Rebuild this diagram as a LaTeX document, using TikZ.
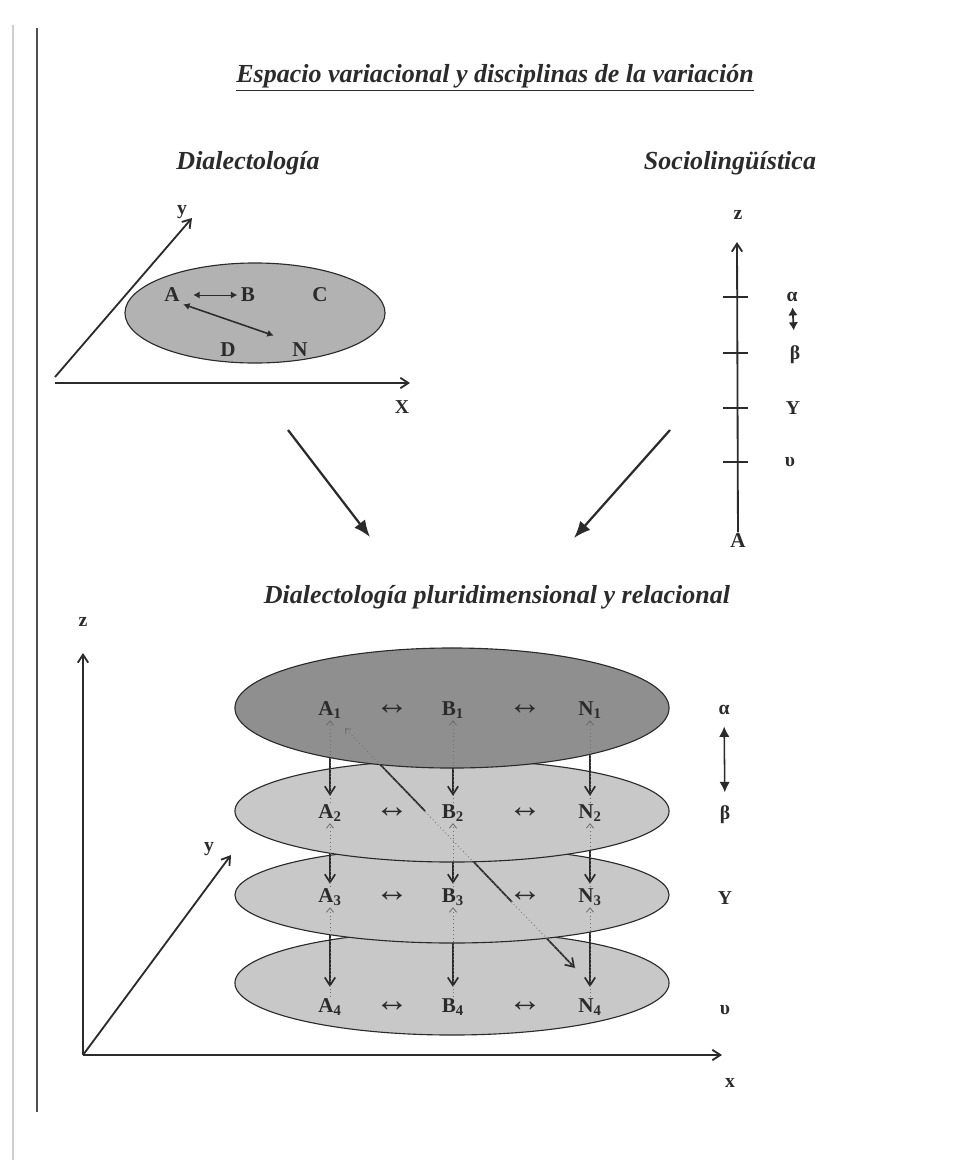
\documentclass[tikz,border=0pt]{standalone}
\usepackage{fontspec}
\setmainfont{Liberation Serif}
\usetikzlibrary{shapes.geometric, arrows.meta, positioning, calc}
\definecolor{evInk}{HTML}{2B2B2B}
\definecolor{evTop}{HTML}{8F8F8F}
\definecolor{evPale}{HTML}{C8C8C8}
\definecolor{evMid}{HTML}{B2B2B2}
\definecolor{evRule}{HTML}{505050}
\definecolor{evEdge}{HTML}{CFCFCF}
\definecolor{evDot}{HTML}{6E6E6E}
\tikzset{
  evhead/.style={font=\fontsize{18.5}{20}\selectfont\bfseries\itshape, text=evInk},
  evletter/.style={font=\fontsize{15}{17}\selectfont\bfseries, text=evInk, inner sep=1pt},
  evsmall/.style={font=\fontsize{14}{16}\selectfont\bfseries, text=evInk, inner sep=1pt},
  evgreek/.style={font=\fontsize{14}{16}\selectfont\bfseries, text=evInk, inner sep=1pt},
  evswap/.style={font=\fontsize{24}{24}\selectfont, text=evInk, inner sep=1pt},
  evaxis/.style={-{Straight Barb[length=2mm, width=2.6mm]}, line width=1.3pt, evInk},
  evplane/.style={ellipse, draw=evInk, line width=0.8pt, inner sep=0pt},
  evlayer/.style={evplane, fill=evPale, minimum width=10.85cm},
  evdown/.style={-{Straight Barb[length=2mm, width=2.6mm]}, line width=1.2pt, evInk},
  evup/.style={-{Straight Barb[length=1.1mm, width=1.8mm]}, dotted, line width=0.6pt, evDot},
  evbig/.style={-{Latex[length=4.2mm, width=3.4mm]}, line width=1.6pt, evInk},
  evtwin/.style={{Latex[length=1.6mm, width=1.8mm]}-{Latex[length=1.6mm, width=1.8mm]}, line width=0.9pt, evInk}
}

\begin{document}
\begin{tikzpicture}[x=0.025cm, y=-0.025cm]
  \useasboundingbox (0,0) rectangle (960,1160);
  \draw[evEdge, line width=2pt] (13,25) -- (13,1160);
  \draw[evRule, line width=1pt] (37,28) -- (37,1112);

  % titles
  \node[evhead] (title) at (495,78) {\underline{Espacio variacional y disciplinas de la variación}};
  \node[evhead] (dial) at (248,163) {Dialectología};
  \node[evhead] (socio) at (730,163) {Sociolingüística};
  \node[evhead] (pluri) at (497,597) {Dialectología pluridimensional y relacional};

  % dialectologia: plano x-y
  \coordinate (oxy) at (55,383);
  \coordinate (tipx) at (410,383);
  \coordinate (oyy) at (55,377);
  \coordinate (tipy) at (192,218);
  \draw[evaxis] (oxy) -- (tipx);
  \draw[evaxis] (oyy) -- (tipy);
  \node[evsmall] (labX) at (402,407) {X};
  \node[evsmall] (laby) at (182,212) {y};
  \node[evplane, fill=evMid, minimum width=6.5cm, minimum height=2.5cm] (plane) at (255,313) {};
  \node[evletter] (pA) at (172,295) {A};
  \node[evletter] (pB) at (248,295) {B};
  \node[evletter] (pC) at (320,295) {C};
  \node[evletter] (pD) at (228,350) {D};
  \node[evletter] (pN) at (300,350) {N};
  \draw[evtwin, line width=0.7pt, shorten <=3mm, shorten >=0.5mm] (pA) -- (pB);
  \draw[evtwin, line width=1.1pt, shorten <=0.5mm, shorten >=4.5mm] (pA.south east) -- (pN.north west);

  % sociolinguistica: eje z
  \node[evletter] (zA) at (738,541) {A};
  \coordinate (tipz) at (737,242);
  \draw[evaxis] (zA) -- (tipz);
  \node[evsmall] (labz) at (738,215) {z};
  \foreach \y in {297,353,408,462}
    \draw[evInk, line width=0.9pt] (723,\y) -- (748,\y);
  \node[evgreek] (sa) at (792,297) {α};
  \node[evgreek] (sb) at (795,355) {β};
  \node[evgreek] (sg) at (793,408) {Y};
  \node[evgreek] (su) at (790,462) {υ};
  \draw[evtwin, line width=1.2pt, {Latex[length=2mm, width=2.4mm]}-{Latex[length=2mm, width=2.4mm]}, shorten <=1mm, shorten >=3.5mm] (sa) -- (sb);

  % flechas hacia la sintesis
  \coordinate (fromL) at (288,430);
  \coordinate (toL) at (370,537);
  \coordinate (fromR) at (670,430);
  \coordinate (toR) at (574,538);
  \draw[evbig] (fromL) -- (toL);
  \draw[evbig] (fromR) -- (toR);

  % ejes x-y-z
  \coordinate (o3) at (83,1055);
  \coordinate (tipz3) at (83,653);
  \coordinate (tipx3) at (722,1055);
  \coordinate (tipy3) at (231,855);
  \draw[evaxis] (o3) -- (tipz3);
  \draw[evaxis] (o3) -- (tipx3);
  \draw[evaxis] (o3) -- (tipy3);
  \node[evsmall] (labz3) at (83,622) {z};
  \node[evsmall] (labx3) at (730,1083) {x};
  \node[evsmall] (laby3) at (209,849) {y};

  % posiciones de las variedades
  \foreach \k/\y in {1/710,2/813,3/897,4/1007} {
    \coordinate (pa\k) at (330,\y);
    \coordinate (pb\k) at (453,\y);
    \coordinate (pn\k) at (590,\y);
  }
  \coordinate (d1) at (345,728);
  \coordinate (d2) at (425,811);
  \coordinate (d3) at (512,902);
  \coordinate (d4) at (575,968);

  % capas, de abajo arriba
  \node[evlayer, minimum height=2.6cm] (L4) at (452,983) {};
  \foreach \c in {a,b,n}
    \draw[evdown, shorten >=5mm] (p\c3) -- (p\c4);
  \draw[evdown] (d3) -- (d4);
  \node[evlayer, minimum height=2.4cm] (L3) at (452,895) {};
  \foreach \c in {a,b,n}
    \draw[evdown, shorten >=3.3mm] (p\c2) -- (p\c3);
  \draw[evInk, line width=1.2pt] (d2) -- (d3);
  \node[evlayer, minimum height=2.55cm] (L2) at (452,811) {};
  \foreach \c in {a,b,n}
    \draw[evdown, shorten >=4.3mm] (p\c1) -- (p\c2);
  \draw[evInk, line width=1.2pt] (d1) -- (d2);
  \node[evlayer, fill=evTop, minimum height=3cm] (L1) at (452,708) {};

  % etiquetas
  \foreach \k/\y in {1/710,2/813,3/897,4/1007} {
    \node[evletter] (a\k) at (pa\k) {A\textsubscript{\k}};
    \node[evletter] (b\k) at (pb\k) {B\textsubscript{\k}};
    \node[evletter] (n\k) at (pn\k) {N\textsubscript{\k}};
    \node[evswap] (ab\k) at (392,\y) {↔};
    \node[evswap] (bn\k) at (525,\y) {↔};
  }
  \foreach \c in {a,b,n} {
    \draw[evup] (\c2.north) -- (\c1.south);
    \draw[evup] (\c3.north) -- (\c2.south);
    \draw[evup] (\c4.north) -- (\c3.south);
  }
  \draw[evup] (d4) -- (d1);

  \node[evgreek] (ga) at (724,710) {α};
  \node[evgreek] (gb) at (725,815) {β};
  \node[evgreek] (gg) at (725,898) {Y};
  \node[evgreek] (gu) at (725,1010) {υ};
  \draw[evtwin, line width=1.1pt, {Latex[length=2.6mm, width=2.6mm]}-{Latex[length=2.6mm, width=2.6mm]}, shorten <=2.5mm, shorten >=3mm] (ga) -- (gb);
\end{tikzpicture}
\end{document}
